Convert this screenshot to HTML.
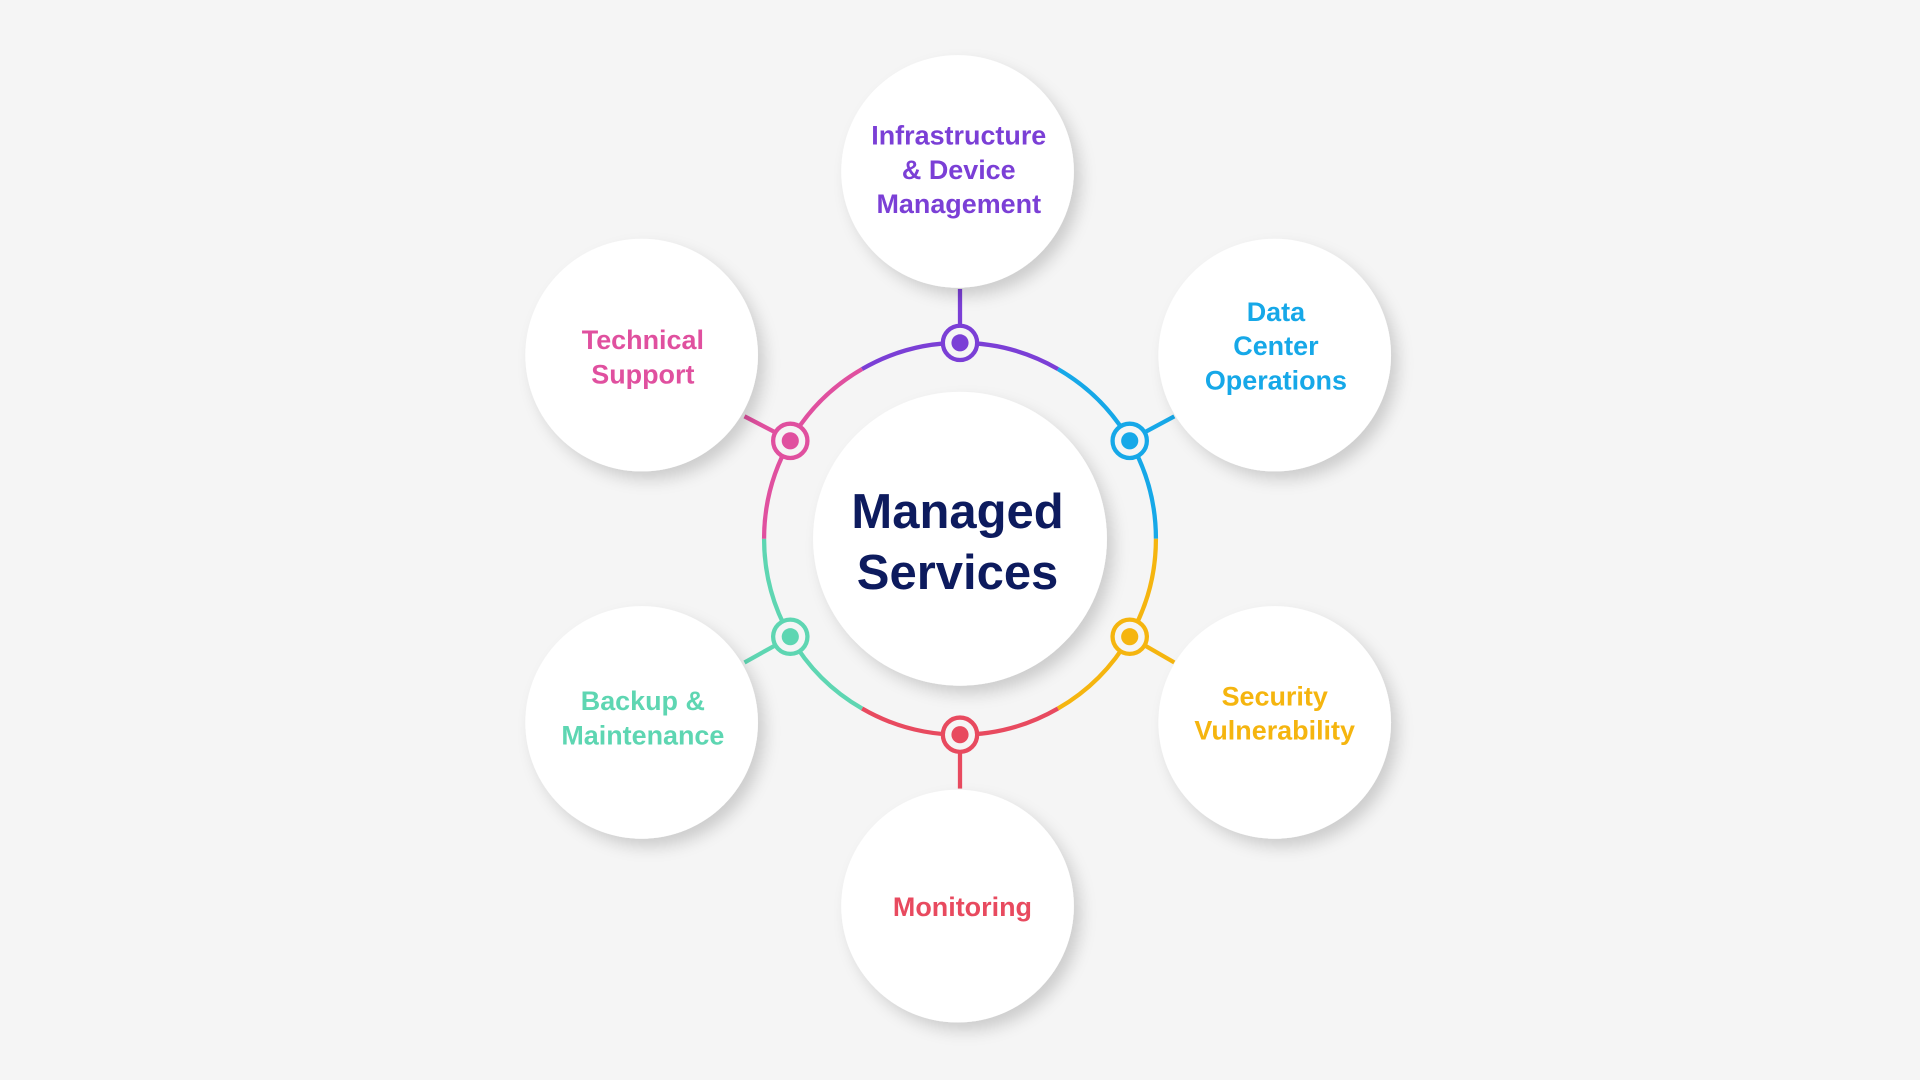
<!DOCTYPE html>
<html><head><meta charset="utf-8"><style>
html,body{margin:0;padding:0;background:#f5f5f5;}
svg{display:block}
text{font-family:"Liberation Sans",Arial,sans-serif;font-weight:bold;text-anchor:middle}
</style></head><body>
<svg width="1920" height="1080" viewBox="0 0 1568 882" xmlns="http://www.w3.org/2000/svg">
<defs>
<filter id="sh" x="-30%" y="-30%" width="160%" height="160%">
<feDropShadow dx="6" dy="7" stdDeviation="6" flood-color="#000" flood-opacity="0.16"/>
</filter>
</defs>
<rect width="1568" height="882" fill="#f5f5f5"/>
<g fill="none" stroke-width="3.5">
<path d="M704,301.4 A160,160 0 0 1 864,301.4" stroke="#7b3fd6"/>
<path d="M864,301.4 A160,160 0 0 1 944,440" stroke="#16a8e8"/>
<path d="M944,440 A160,160 0 0 1 864,578.6" stroke="#f5b50f"/>
<path d="M864,578.6 A160,160 0 0 1 704,578.6" stroke="#e84a5f"/>
<path d="M704,578.6 A160,160 0 0 1 624,440" stroke="#5ed6b2"/>
<path d="M624,440 A160,160 0 0 1 704,301.4" stroke="#e0509f"/>
<line x1="784" y1="236" x2="784" y2="268" stroke="#7b3fd6"/>
<line x1="784" y1="612" x2="784" y2="644" stroke="#e84a5f"/>
<line x1="933" y1="354" x2="959" y2="340" stroke="#16a8e8"/>
<line x1="933" y1="526" x2="959" y2="541" stroke="#f5b50f"/>
<line x1="635" y1="354" x2="608" y2="340" stroke="#e0509f"/>
<line x1="635" y1="526" x2="608" y2="541" stroke="#5ed6b2"/>
</g>
<g stroke-width="3.5" fill="#f5f5f5">
<circle cx="784" cy="280" r="14" stroke="#7b3fd6"/><circle cx="784" cy="280" r="7" fill="#7b3fd6" stroke="none"/>
<circle cx="922.6" cy="360" r="14" stroke="#16a8e8"/><circle cx="922.6" cy="360" r="7" fill="#16a8e8" stroke="none"/>
<circle cx="922.6" cy="520" r="14" stroke="#f5b50f"/><circle cx="922.6" cy="520" r="7" fill="#f5b50f" stroke="none"/>
<circle cx="784" cy="600" r="14" stroke="#e84a5f"/><circle cx="784" cy="600" r="7" fill="#e84a5f" stroke="none"/>
<circle cx="645.4" cy="520" r="14" stroke="#5ed6b2"/><circle cx="645.4" cy="520" r="7" fill="#5ed6b2" stroke="none"/>
<circle cx="645.4" cy="360" r="14" stroke="#e0509f"/><circle cx="645.4" cy="360" r="7" fill="#e0509f" stroke="none"/>
</g>
<g fill="#fff" filter="url(#sh)">
<circle cx="784" cy="440" r="120"/>
<circle cx="782" cy="140" r="95"/>
<circle cx="1041" cy="290" r="95"/>
<circle cx="1041" cy="590" r="95"/>
<circle cx="782" cy="740" r="95"/>
<circle cx="524" cy="590" r="95"/>
<circle cx="524" cy="290" r="95"/>
</g>
<text x="782" y="431" font-size="40" fill="#0d1b5e">Managed</text>
<text x="782" y="481" font-size="40" fill="#0d1b5e">Services</text>
<g font-size="22">
<text fill="#7b3fd6"><tspan x="783" y="118">Infrastructure</tspan><tspan x="783" y="146">&amp; Device</tspan><tspan x="783" y="174">Management</tspan></text>
<text fill="#16a8e8"><tspan x="1042" y="262">Data</tspan><tspan x="1042" y="290">Center</tspan><tspan x="1042" y="318">Operations</tspan></text>
<text fill="#f5b50f"><tspan x="1041" y="576">Security</tspan><tspan x="1041" y="604">Vulnerability</tspan></text>
<text fill="#e84a5f"><tspan x="786" y="748">Monitoring</tspan></text>
<text fill="#5ed6b2"><tspan x="525" y="580">Backup &amp;</tspan><tspan x="525" y="608">Maintenance</tspan></text>
<text fill="#e0509f"><tspan x="525" y="285">Technical</tspan><tspan x="525" y="313">Support</tspan></text>
</g>
</svg>
</body></html>
